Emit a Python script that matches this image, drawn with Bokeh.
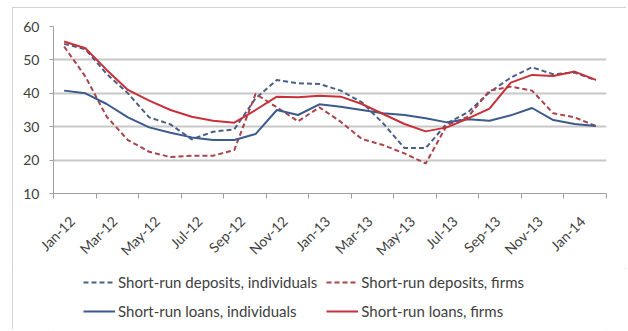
from math import pi
from bokeh.plotting import figure
from bokeh.layouts import column
from bokeh.models import Range1d, FixedTicker, Legend, LegendItem
from bokeh.embed import file_html
from bokeh.resources import INLINE

months = ["Jan-12", "Feb-12", "Mar-12", "Apr-12", "May-12", "Jun-12", "Jul-12",
          "Aug-12", "Sep-12", "Oct-12", "Nov-12", "Dec-12", "Jan-13", "Feb-13",
          "Mar-13", "Apr-13", "May-13", "Jun-13", "Jul-13", "Aug-13", "Sep-13",
          "Oct-13", "Nov-13", "Dec-13", "Jan-14", "Feb-14"]

dep_ind = [54.8, 53.2, 45.8, 40.0, 32.8, 30.7, 26.2, 28.5, 29.2, 38.5, 44.0, 43.0,
           42.8, 40.8, 37.3, 31.0, 23.6, 23.6, 31.0, 34.4, 40.3, 44.7, 47.8, 45.7,
           46.2, 43.9]
dep_firm = [54.0, 45.0, 33.0, 26.0, 22.5, 20.9, 21.3, 21.3, 23.0, 39.8, 35.8, 31.6,
            35.8, 31.5, 26.3, 24.5, 22.0, 19.0, 30.5, 33.0, 40.8, 42.0, 40.8, 34.0,
            32.8, 30.2]
loan_ind = [40.8, 40.0, 36.8, 32.8, 29.8, 28.2, 26.8, 26.0, 26.0, 27.8, 35.0, 33.5,
            36.7, 36.0, 35.0, 34.0, 33.5, 32.5, 31.3, 32.2, 31.8, 33.4, 35.6, 32.0,
            30.8, 30.2]
loan_firm = [55.5, 53.5, 47.0, 41.0, 37.8, 35.0, 33.0, 31.8, 31.2, 35.0, 39.0, 38.8,
             39.3, 39.0, 36.8, 33.8, 30.8, 28.6, 29.8, 32.5, 35.4, 43.2, 45.5, 45.2,
             46.5, 44.0]

y_ticks = [10, 20, 30, 40, 50, 60]
labels = ["Short-run deposits, individuals", "Short-run deposits, firms",
          "Short-run loans, individuals", "Short-run loans, firms"]

FONT = "Lato"
TXT = "#404040"
STYLES = [dict(line_color="#4A5E86", line_width=2, line_dash="5 3"),
          dict(line_color="#A8444A", line_width=2, line_dash="5 3"),
          dict(line_color="#3D5A8C", line_width=2),
          dict(line_color="#C8303A", line_width=2)]

x = list(range(len(months)))
n = len(months)
series = [dep_ind, dep_firm, loan_ind, loan_firm]

p = figure(frame_width=553, frame_height=167, output_backend="svg",
           toolbar_location=None,
           x_range=Range1d(-0.5, n - 0.5), y_range=Range1d(10, 60),
           min_border_left=41, min_border_top=19, min_border_right=20,
           min_border_bottom=75)
p.outline_line_color = None
p.background_fill_color = "white"
p.border_fill_color = "white"

for ys, st in zip(series, STYLES):
    p.line(x, ys, **st)

# label position: slightly right of the category centre, tick marks at boundaries
off = 0.375
xa = p.xaxis[0]
xa.ticker = FixedTicker(ticks=[i + off for i in range(0, n, 2)],
                        minor_ticks=[i - 0.5 for i in range(0, n + 1, 2)])
xa.major_label_overrides = {i + off: months[i] for i in range(0, n, 2)}
xa.major_label_orientation = pi / 4
xa.major_tick_out = 0
xa.major_tick_in = 0
xa.minor_tick_out = 5
xa.minor_tick_in = 0
xa.minor_tick_line_color = "#A0A0A0"
xa.axis_line_color = "#A0A0A0"
xa.major_label_text_font = FONT
xa.major_label_text_font_size = "14px"
xa.major_label_text_color = TXT
xa.major_label_standoff = 20

ya = p.yaxis[0]
ya.ticker = FixedTicker(ticks=y_ticks)
ya.major_tick_out = 4
ya.major_tick_in = 0
ya.minor_tick_out = 0
ya.minor_tick_in = 0
ya.major_tick_line_color = "#A0A0A0"
ya.axis_line_color = "#A0A0A0"
ya.major_label_text_font = FONT
ya.major_label_text_font_size = "14px"
ya.major_label_text_color = TXT
ya.major_label_standoff = 10

p.xgrid.visible = False
p.ygrid.ticker = FixedTicker(ticks=y_ticks)
p.ygrid.grid_line_color = "#C8C8C8"
p.ygrid.grid_line_width = 2

# legend strip below the chart (its renderers sit outside the strip's y range)
lg = figure(width=614, height=61, output_backend="svg", toolbar_location=None,
            x_axis_type=None, y_axis_type=None,
            x_range=Range1d(-0.5, n - 0.5), y_range=Range1d(1000, 1001),
            min_border=0)
lg.outline_line_color = None
lg.grid.visible = False
lr = [lg.line(x, ys, **st) for ys, st in zip(series, STYLES)]

legend = Legend(items=[LegendItem(label=labels[0], renderers=[lr[0]]),
                       LegendItem(label=labels[2], renderers=[lr[2]]),
                       LegendItem(label=labels[1], renderers=[lr[1]]),
                       LegendItem(label=labels[3], renderers=[lr[3]])],
                ncols=2, location=(30, 8), margin=0, padding=0,
                glyph_width=32, glyph_height=20, label_height=20,
                label_standoff=3, spacing=9,
                label_text_font=FONT, label_text_font_size="15px",
                label_text_color=TXT, border_line_color=None,
                background_fill_alpha=0)
lg.add_layout(legend)

layout = column(p, lg, spacing=0,
                styles={"margin": "7px 0 0 12px",
                        "outline": "1px solid #C4C4C4", "outline-offset": "-1px"})

open("out.html", "w").write(file_html(layout, INLINE))
